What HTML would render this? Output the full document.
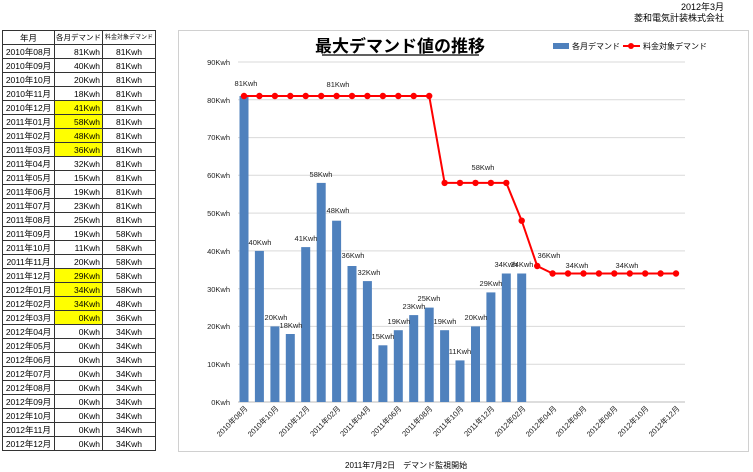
<!DOCTYPE html>
<html><head><meta charset="utf-8"><style>
body{margin:0;width:753px;height:472px;background:#fff;position:relative;font-family:"Liberation Sans","Noto Sans CJK JP",sans-serif;overflow:hidden}
table{position:absolute;left:2px;top:30px;border-collapse:collapse;font-size:8.5px;table-layout:fixed;width:153px}
td{border:1px solid #333;height:13px;padding:0 2px;line-height:12px;white-space:nowrap;overflow:hidden;box-sizing:border-box}
tr{height:14px}
td:nth-child(1){text-align:center}
td:nth-child(2){text-align:right}
td:nth-child(3){text-align:center}
.y{background:#ffff00}
svg{position:absolute;left:0;top:0}
</style></head><body>
<table>
<colgroup><col style="width:52px"><col style="width:48px"><col style="width:53px"></colgroup>
<tr><td>年月</td><td style="text-align:center;font-size:7.5px;padding:0">各月デマンド</td><td style="font-size:6px;padding:0">料金対象デマンド</td></tr>
<tr><td>2010年08月</td><td>81Kwh</td><td>81Kwh</td></tr>
<tr><td>2010年09月</td><td>40Kwh</td><td>81Kwh</td></tr>
<tr><td>2010年10月</td><td>20Kwh</td><td>81Kwh</td></tr>
<tr><td>2010年11月</td><td>18Kwh</td><td>81Kwh</td></tr>
<tr><td>2010年12月</td><td class="y">41Kwh</td><td>81Kwh</td></tr>
<tr><td>2011年01月</td><td class="y">58Kwh</td><td>81Kwh</td></tr>
<tr><td>2011年02月</td><td class="y">48Kwh</td><td>81Kwh</td></tr>
<tr><td>2011年03月</td><td class="y">36Kwh</td><td>81Kwh</td></tr>
<tr><td>2011年04月</td><td>32Kwh</td><td>81Kwh</td></tr>
<tr><td>2011年05月</td><td>15Kwh</td><td>81Kwh</td></tr>
<tr><td>2011年06月</td><td>19Kwh</td><td>81Kwh</td></tr>
<tr><td>2011年07月</td><td>23Kwh</td><td>81Kwh</td></tr>
<tr><td>2011年08月</td><td>25Kwh</td><td>81Kwh</td></tr>
<tr><td>2011年09月</td><td>19Kwh</td><td>58Kwh</td></tr>
<tr><td>2011年10月</td><td>11Kwh</td><td>58Kwh</td></tr>
<tr><td>2011年11月</td><td>20Kwh</td><td>58Kwh</td></tr>
<tr><td>2011年12月</td><td class="y">29Kwh</td><td>58Kwh</td></tr>
<tr><td>2012年01月</td><td class="y">34Kwh</td><td>58Kwh</td></tr>
<tr><td>2012年02月</td><td class="y">34Kwh</td><td>48Kwh</td></tr>
<tr><td>2012年03月</td><td class="y">0Kwh</td><td>36Kwh</td></tr>
<tr><td>2012年04月</td><td>0Kwh</td><td>34Kwh</td></tr>
<tr><td>2012年05月</td><td>0Kwh</td><td>34Kwh</td></tr>
<tr><td>2012年06月</td><td>0Kwh</td><td>34Kwh</td></tr>
<tr><td>2012年07月</td><td>0Kwh</td><td>34Kwh</td></tr>
<tr><td>2012年08月</td><td>0Kwh</td><td>34Kwh</td></tr>
<tr><td>2012年09月</td><td>0Kwh</td><td>34Kwh</td></tr>
<tr><td>2012年10月</td><td>0Kwh</td><td>34Kwh</td></tr>
<tr><td>2012年11月</td><td>0Kwh</td><td>34Kwh</td></tr>
<tr><td>2012年12月</td><td>0Kwh</td><td>34Kwh</td></tr>
</table>
<svg width="753" height="472" font-family="Liberation Sans, Noto Sans CJK JP, sans-serif">
<text x="724" y="10" font-size="9" text-anchor="end">2012年3月</text>
<text x="724" y="21" font-size="9" text-anchor="end">菱和電気計装株式会社</text>
<rect x="178.5" y="30.5" width="570" height="421" fill="#fff" stroke="#d0d0d0"/>
<text x="400" y="52" font-size="17" font-weight="bold" text-anchor="middle">最大デマンド値の推移</text>
<line x1="322" y1="55" x2="479" y2="55" stroke="#000" stroke-width="1.3"/>
<rect x="553" y="43" width="16" height="6" fill="#4f81bd"/>
<text x="572" y="49" font-size="8">各月デマンド</text>
<line x1="623" y1="46" x2="640" y2="46" stroke="#f00" stroke-width="2"/><circle cx="631" cy="46" r="3" fill="#f00"/>
<text x="643" y="49" font-size="8">料金対象デマンド</text>
<g stroke="#d9d9d9" stroke-width="1">
<line x1="238" y1="62" x2="685" y2="62"/><line x1="238" y1="99.8" x2="685" y2="99.8"/><line x1="238" y1="137.6" x2="685" y2="137.6"/><line x1="238" y1="175.3" x2="685" y2="175.3"/><line x1="238" y1="213.1" x2="685" y2="213.1"/><line x1="238" y1="250.9" x2="685" y2="250.9"/><line x1="238" y1="288.7" x2="685" y2="288.7"/><line x1="238" y1="326.4" x2="685" y2="326.4"/><line x1="238" y1="364.2" x2="685" y2="364.2"/><line x1="238" y1="402" x2="685" y2="402" stroke="#bbb"/>
</g>
<g font-size="7.5" text-anchor="end" fill="#222">
<text x="230" y="65">90Kwh</text><text x="230" y="103">80Kwh</text><text x="230" y="140">70Kwh</text><text x="230" y="178">60Kwh</text><text x="230" y="216">50Kwh</text><text x="230" y="254">40Kwh</text><text x="230" y="292">30Kwh</text><text x="230" y="329">20Kwh</text><text x="230" y="367">10Kwh</text><text x="230" y="405">0Kwh</text>
</g>
<g fill="#4f81bd">
<rect x="239.5" y="96" width="9" height="306"/><rect x="254.9" y="250.9" width="9" height="151.1"/><rect x="270.4" y="326.4" width="9" height="75.6"/><rect x="285.8" y="334" width="9" height="68"/><rect x="301.2" y="247.1" width="9" height="154.9"/><rect x="316.7" y="182.9" width="9" height="219.1"/><rect x="332.1" y="220.7" width="9" height="181.3"/><rect x="347.5" y="266" width="9" height="136"/><rect x="362.9" y="281.1" width="9" height="120.9"/><rect x="378.4" y="345.3" width="9" height="56.7"/><rect x="393.8" y="330.2" width="9" height="71.8"/><rect x="409.2" y="315.1" width="9" height="86.9"/><rect x="424.7" y="307.6" width="9" height="94.4"/><rect x="440.1" y="330.2" width="9" height="71.8"/><rect x="455.5" y="360.4" width="9" height="41.6"/><rect x="471" y="326.4" width="9" height="75.6"/><rect x="486.4" y="292.4" width="9" height="109.6"/><rect x="501.8" y="273.5" width="9" height="128.5"/><rect x="517.2" y="273.5" width="9" height="128.5"/>
</g>
<polyline fill="none" stroke="#f00" stroke-width="2" points="244,96 429.2,96 444.6,182.9 506.3,182.9 521.7,220.7 537.2,266 552.6,273.5 676,273.5"/>
<g fill="#f00">
<circle cx="244" cy="96" r="3.2"/><circle cx="259.4" cy="96" r="3.2"/><circle cx="274.9" cy="96" r="3.2"/><circle cx="290.3" cy="96" r="3.2"/><circle cx="305.7" cy="96" r="3.2"/><circle cx="321.2" cy="96" r="3.2"/><circle cx="336.6" cy="96" r="3.2"/><circle cx="352" cy="96" r="3.2"/><circle cx="367.4" cy="96" r="3.2"/><circle cx="382.9" cy="96" r="3.2"/><circle cx="398.3" cy="96" r="3.2"/><circle cx="413.7" cy="96" r="3.2"/><circle cx="429.2" cy="96" r="3.2"/>
<circle cx="444.6" cy="182.9" r="3.2"/><circle cx="460" cy="182.9" r="3.2"/><circle cx="475.5" cy="182.9" r="3.2"/><circle cx="490.9" cy="182.9" r="3.2"/><circle cx="506.3" cy="182.9" r="3.2"/><circle cx="521.7" cy="220.7" r="3.2"/><circle cx="537.2" cy="266" r="3.2"/>
<circle cx="552.6" cy="273.5" r="3.2"/><circle cx="568" cy="273.5" r="3.2"/><circle cx="583.5" cy="273.5" r="3.2"/><circle cx="598.9" cy="273.5" r="3.2"/><circle cx="614.3" cy="273.5" r="3.2"/><circle cx="629.8" cy="273.5" r="3.2"/><circle cx="645.2" cy="273.5" r="3.2"/><circle cx="660.6" cy="273.5" r="3.2"/><circle cx="676" cy="273.5" r="3.2"/>
</g>
<g font-size="7.5" text-anchor="middle" fill="#222">
<text x="246" y="86">81Kwh</text><text x="338" y="87">81Kwh</text><text x="483" y="170">58Kwh</text><text x="549" y="258">36Kwh</text><text x="577" y="268">34Kwh</text><text x="627" y="268">34Kwh</text>
<text x="260" y="245">40Kwh</text><text x="276" y="320">20Kwh</text><text x="291" y="328">18Kwh</text><text x="306" y="241">41Kwh</text><text x="321" y="177">58Kwh</text><text x="338" y="213">48Kwh</text><text x="353" y="258">36Kwh</text><text x="369" y="275">32Kwh</text><text x="383" y="339">15Kwh</text><text x="399" y="324">19Kwh</text><text x="414" y="309">23Kwh</text><text x="429" y="301">25Kwh</text><text x="445" y="324">19Kwh</text><text x="460" y="354">11Kwh</text><text x="476" y="320">20Kwh</text><text x="491" y="286">29Kwh</text><text x="506" y="267">34Kwh</text><text x="522" y="267">34Kwh</text>
</g>
<g font-size="7.5" text-anchor="end" fill="#222">
<text transform="translate(248,409) rotate(-45)">2010年08月</text>
<text transform="translate(279,409) rotate(-45)">2010年10月</text>
<text transform="translate(310,409) rotate(-45)">2010年12月</text>
<text transform="translate(341,409) rotate(-45)">2011年02月</text>
<text transform="translate(371,409) rotate(-45)">2011年04月</text>
<text transform="translate(402,409) rotate(-45)">2011年06月</text>
<text transform="translate(433,409) rotate(-45)">2011年08月</text>
<text transform="translate(464,409) rotate(-45)">2011年10月</text>
<text transform="translate(495,409) rotate(-45)">2011年12月</text>
<text transform="translate(526,409) rotate(-45)">2012年02月</text>
<text transform="translate(557,409) rotate(-45)">2012年04月</text>
<text transform="translate(587,409) rotate(-45)">2012年06月</text>
<text transform="translate(618,409) rotate(-45)">2012年08月</text>
<text transform="translate(649,409) rotate(-45)">2012年10月</text>
<text transform="translate(680,409) rotate(-45)">2012年12月</text>
</g>
<text x="345" y="468" font-size="8">2011年7月2日　デマンド監視開始</text>
</svg>
</body></html>
